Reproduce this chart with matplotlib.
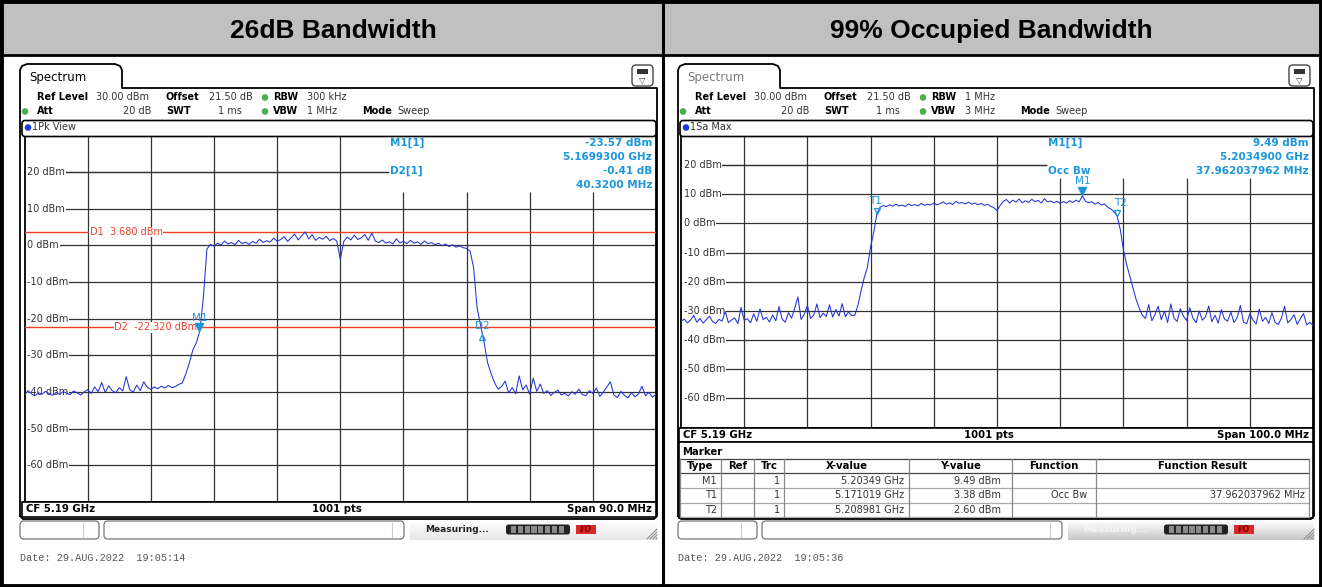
import numpy as np
import matplotlib
matplotlib.use("Agg")
import matplotlib.pyplot as plt
from matplotlib.patches import Rectangle, FancyBboxPatch, Circle

W, H = 1322, 587
UI = "DejaVu Sans"
MARK = "#1a96dc"
TRACE = "#2233d8"
RED = "#e8412c"
GRID = "#333333"

# ---- values ----
titles = ["26dB Bandwidth", "99% Occupied Bandwidth"]

# 26 dB bandwidth sweep, CF 5.19 GHz / span 90 MHz, one reading every 0.5 MHz (dBm)
left_span = (5145.0, 5235.0)
left_trace = [
    -40.8, -39.6, -40.5, -41.0, -40.2, -40.6, -39.8, -40.4, -40.9, -40.1,
    -40.6, -39.9, -40.3, -40.7, -39.7, -40.2, -40.8, -40.0, -39.3, -40.4,
    -38.6, -39.9, -37.4, -40.1, -38.3, -39.6, -40.2, -38.8, -39.7, -35.8,
    -39.4, -40.0, -38.1, -39.6, -37.2, -38.7, -39.3, -38.6, -39.1, -38.4,
    -38.9, -38.2, -38.8, -38.5, -37.9, -37.5, -35.0, -32.0, -28.5, -26.5,
    -23.2, -14.0, -1.0, 0.3, -0.2, 0.6, 0.1, 1.2, 0.4, 0.8,
    0.2, 1.4, 0.5, 0.9, 0.3, 1.1, 0.6, 1.7, 0.8, 1.3,
    0.9, 2.0, 1.2, 1.6, 2.4, 1.1, 2.1, 3.1, 1.5, 2.6,
    3.68, 1.8, 2.9, 1.4, 2.2, 1.7, 2.5, 1.3, 1.9, 1.2,
    -3.8, 1.1, 2.3, 1.5, 2.8, 1.6, 2.1, 3.0, 1.4, 3.4,
    1.2, 0.8, 1.5, 0.6, 1.0, 0.4, 1.8, 0.7, 1.1, 0.5,
    1.4, 0.6, 1.0, 0.3, 1.2, 0.5, 0.8, 0.2, 0.6, -0.1,
    0.4, -0.3, 0.2, -0.5, -0.1, -0.6, -0.8, -1.5, -6.0, -17.0,
    -21.8, -26.5, -32.0, -35.0, -37.5, -39.2, -38.5, -37.0, -40.2, -38.8,
    -40.5, -35.6, -39.4, -38.1, -40.6, -36.2, -39.8, -37.8, -40.4, -39.6,
    -40.9, -40.1, -39.5, -40.8, -40.3, -41.1, -39.9, -40.6, -39.2, -40.7,
    -41.0, -39.6, -40.4, -38.9, -41.2, -40.0, -38.6, -37.2, -40.8, -41.5,
    -39.8, -40.9, -41.6, -40.2, -41.3, -40.5, -38.4, -41.0, -40.1, -41.4,
    -40.6,
]

# 99 % occupied bandwidth sweep, CF 5.19 GHz / span 100 MHz, every 0.5 MHz (dBm)
right_span = (5140.0, 5240.0)
right_trace = [
    -33.6, -32.8, -34.1, -33.2, -31.5, -33.9, -32.6, -34.2, -33.0, -31.8,
    -33.7, -34.3, -32.9, -33.5, -30.2, -34.0, -33.1, -32.4, -34.4, -28.8,
    -33.2, -32.7, -34.1, -31.0, -33.6, -29.3, -33.0, -32.2, -33.8, -31.4,
    -33.4, -28.5, -32.8, -33.9, -30.6, -32.5, -29.0, -25.2, -32.9, -31.2,
    -28.2, -32.6, -31.5, -27.6, -32.3, -30.8, -31.9, -27.9, -32.1, -29.5,
    -31.8, -27.5, -32.0, -30.4, -31.6, -31.5, -28.0, -23.0, -18.5, -15.0,
    -8.0, -3.0, 3.4, 5.6, 6.1, 5.8, 6.4, 5.9, 6.6, 6.0,
    6.3, 5.8, 6.7, 6.1, 6.5, 6.0, 6.9, 6.2, 6.6, 6.3,
    7.0, 6.4, 6.8, 7.4, 6.6, 7.1, 6.5, 7.6, 6.9, 7.2,
    6.7, 7.3, 6.6, 7.0, 6.4, 6.9, 6.2, 6.6, 5.9, 5.4,
    4.4, 6.2, 7.6, 8.2, 7.0, 8.0, 7.3, 8.4, 7.1, 7.8,
    7.2, 8.3, 7.5, 7.9, 7.0, 8.5, 7.4, 7.7, 7.1, 7.6,
    6.9, 7.5, 7.0, 7.8, 7.2, 8.0, 7.4, 9.49, 7.6, 7.1,
    7.4, 6.6, 7.2, 6.3, 6.7, 5.6, 5.0, 4.0, 2.6, -2.0,
    -9.0, -14.0, -18.0, -22.0, -26.0, -29.0, -31.5, -32.6, -27.8, -33.4,
    -31.2, -28.4, -33.0, -30.1, -34.0, -27.6, -32.5, -33.6, -29.2, -31.8,
    -33.3, -28.9, -32.4, -34.1, -30.0, -33.2, -32.0, -28.3, -33.7, -31.5,
    -34.2, -29.6, -32.8, -33.5, -30.4, -34.0, -32.3, -28.1, -33.8, -34.4,
    -31.0, -33.1, -34.5, -29.4, -33.6, -32.2, -34.3, -30.6, -33.9, -34.7,
    -32.5, -28.4, -34.1, -33.0, -31.3, -34.6, -32.7, -30.9, -34.8, -33.9,
    -35.0,
]

db_levels = [20, 10, 0, -10, -20, -30, -40, -50, -60]
left_d1, left_d2 = 3.68, -22.32
left_m1 = (5169.93, -23.57)
left_delta2 = (5210.25, -23.98)
right_m1 = (5203.49, 9.49)
right_t1 = (5171.019, 3.38)
right_t2 = (5208.981, 2.60)

left_info = [("M1[1]", "-23.57 dBm"), ("", "5.1699300 GHz"), ("D2[1]", "-0.41 dB"), ("", "40.3200 MHz")]
right_info = [("M1[1]", "9.49 dBm"), ("", "5.2034900 GHz"), ("Occ Bw", "37.962037962 MHz")]

table_cols = ["Type", "Ref", "Trc", "X-value", "Y-value", "Function", "Function Result"]
table_rows = [
    ["M1", "", "1", "5.20349 GHz", "9.49 dBm", "", ""],
    ["T1", "", "1", "5.171019 GHz", "3.38 dBm", "Occ Bw", "37.962037962 MHz"],
    ["T2", "", "1", "5.208981 GHz", "2.60 dBm", "", ""],
]

fig = plt.figure(figsize=(W / 100, H / 100), dpi=100, facecolor="white")


def px_axes(x0, y0, x1, y1, **kw):
    return fig.add_axes([x0 / W, 1 - y1 / H, (x1 - x0) / W, (y1 - y0) / H], **kw)


def spectrum_axes(box, span, trace, box_top):
    ax = px_axes(*box)
    freqs = np.linspace(span[0], span[1], len(trace))
    ax.set_xlim(*span)
    ax.set_ylim(-70, 30)
    ax.set_xticks([])
    ax.set_yticks([])
    for s in ax.spines.values():
        s.set_color("black")
        s.set_linewidth(1.3)
    step = (span[1] - span[0]) / 10
    for k in range(1, 10):
        f = span[0] + k * step
        top = 30 if k <= 5 else box_top
        ax.vlines(f, -70, top, color=GRID, lw=0.9, zorder=1)
    for v in db_levels:
        ax.axhline(v, color=GRID, lw=0.9, zorder=1)
        ax.text(0.004, v, f"{v} dBm", transform=ax.get_yaxis_transform(), fontsize=7,
                family=UI, color="#333333", va="center", ha="left", zorder=3,
                bbox=dict(fc="white", ec="none", pad=0.8))
    ax.plot(freqs, trace, color=TRACE, lw=0.75, zorder=4)
    return ax


# left spectrum
axl = spectrum_axes((24.5, 135.5, 656, 502), left_span, left_trace, 14.6)
axl.add_patch(Rectangle((5197.0, 14.6), 40, 20, fc="white", ec="none", zorder=2))
axl.hlines(20, 5145, 5197.0, color=GRID, lw=0.9, zorder=2.5)
for lvl, lab, fx in [(left_d1, "D1  3.680 dBm", 5154.3), (left_d2, "D2  -22.320 dBm", 5157.8)]:
    axl.axhline(lvl, color=RED, lw=1.0, zorder=3)
    axl.text(fx, lvl, lab, color=RED, fontsize=7, family=UI, va="center", zorder=3.5,
             bbox=dict(fc="white", ec="none", pad=0.3))
axl.plot(left_m1[0], left_m1[1] + 1.3, marker="v", ms=6, color=MARK, zorder=6)
axl.text(left_m1[0], left_m1[1] + 3.9, "M1", color=MARK, fontsize=7.5, family=UI,
         ha="center", va="center", zorder=6)
axl.plot(left_delta2[0], left_delta2[1] - 1.0, marker="^", ms=5, mfc="none", mec=MARK,
         mew=0.9, zorder=6)
axl.text(left_delta2[0], left_delta2[1] + 2.1, "D2", color=MARK, fontsize=7.5, family=UI,
         ha="center", va="center", zorder=6)

# right spectrum
axr = spectrum_axes((681, 136, 1313, 427.5), right_span, right_trace, 15.6)
axr.add_patch(Rectangle((5197.9, 15.6), 50, 20, fc="white", ec="none", zorder=2))
axr.hlines(20, 5140, 5197.9, color=GRID, lw=0.9, zorder=2.5)
axr.plot(right_m1[0], right_m1[1] + 1.6, marker="v", ms=6, color=MARK, zorder=6)
axr.text(right_m1[0], right_m1[1] + 5.0, "M1", color=MARK, fontsize=7.5, family=UI,
         ha="center", va="center", zorder=6)
for (f, v), lab, dx in [(right_t1, "T1", -0.3), (right_t2, "T2", 0.5)]:
    axr.plot(f, v + 1.0, marker="v", ms=5, mfc="none", mec=MARK, mew=0.9, zorder=6)
    axr.text(f + dx, v + 4.3, lab, color=MARK, fontsize=7.5, family=UI,
             ha="center", va="center", zorder=6)

# ---- overlay in pixel coordinates for the screen furniture ----
ov = px_axes(0, 0, W, H, zorder=10)
ov.axis("off")


def t(x, y, s, **kw):
    kw.setdefault("fontsize", 7)
    kw.setdefault("family", UI)
    kw.setdefault("va", "center")
    ov.text(x, y, s, **kw)


def dot(x, y, c):
    ov.add_patch(Circle((x, y), 3.3, fc=c, ec="none"))


# title band and outer frame
ov.add_patch(Rectangle((0, 0), W, 55, fc="#c0c0c0", ec="none"))
ov.plot([0, W], [55, 55], color="black", lw=2)
ov.plot([663, 663], [0, H], color="black", lw=2.2)
ov.add_patch(Rectangle((1, 1), W - 2, H - 2.5, fill=False, ec="black", lw=3.5))
ov.text(333, 31, titles[0], ha="center", va="center", fontsize=19, fontweight="bold",
        family="Liberation Sans")
ov.text(991, 31, titles[1], ha="center", va="center", fontsize=19, fontweight="bold",
        family="Liberation Sans")


def screen(x0, x1, bottom, tab_color, rbw, vbw, view, date, meas_light):
    xs = [x0, x0, x0 + 2, x0 + 7, x0 + 95, x0 + 100, x0 + 102, x0 + 102, x1, x1, x1 - 3, x0 + 3, x0]
    ys = [bottom - 3, 70, 66, 64, 64, 66, 70, 88, 88, bottom - 3, bottom, bottom, bottom - 3]
    ov.plot(xs, ys, color="black", lw=1.3)
    t(x0 + 9, 77, "Spectrum", fontsize=8.5, color=tab_color)
    ov.add_patch(FancyBboxPatch((x1 - 25, 65), 21, 21, boxstyle="round,pad=0,rounding_size=4",
                                fc="white", ec="#444444", lw=1))
    ov.add_patch(Rectangle((x1 - 20, 69), 11, 5, fc="#333333", ec="none"))
    t(x1 - 14.5, 80.5, "▽", ha="center", fontsize=6, color="#333333")
    # settings rows
    bold = dict(fontweight="bold")
    t(x0 + 17, 97, "Ref Level", **bold)
    t(x0 + 76, 97, "30.00 dBm", color="#333333")
    t(x0 + 146, 97, "Offset", **bold)
    t(x0 + 189, 97, "21.50 dB", color="#333333")
    dot(x0 + 245, 97.5, "#4cae4c")
    t(x0 + 253, 97, "RBW", **bold)
    t(x0 + 287, 97, rbw, color="#333333")
    dot(x0 + 5, 111.5, "#4cae4c")
    t(x0 + 17, 111, "Att", **bold)
    t(x0 + 131, 111, "20 dB", ha="right", color="#333333")
    t(x0 + 146, 111, "SWT", **bold)
    t(x0 + 222, 111, "1 ms", ha="right", color="#333333")
    dot(x0 + 245, 111.5, "#4cae4c")
    t(x0 + 253, 111, "VBW", **bold)
    t(x0 + 287, 111, vbw, color="#333333")
    t(x0 + 342, 111, "Mode", **bold)
    t(x0 + 377, 111, "Sweep", color="#333333")
    # trace header row
    ov.add_patch(FancyBboxPatch((x0 + 2, 120.5), x1 - x0 - 3, 16, boxstyle="round,pad=0,rounding_size=3",
                                fc="white", ec="black", lw=1.2))
    dot(x0 + 8, 127.5, "#1a3ad8")
    t(x0 + 12, 127.5, view, color="#333333")
    # status bar
    sb = dict(boxstyle="round,pad=0,rounding_size=4", fc="white", ec="#777777", lw=0.9)
    ov.add_patch(FancyBboxPatch((x0, 521), 79, 18, **sb))
    ov.add_patch(FancyBboxPatch((x0 + 84, 521), 300, 18, **sb))
    ov.plot([x0 + 63, x0 + 63], [523, 537], color="#cccccc", lw=0.8)
    ov.plot([x0 + 372, x0 + 372], [523, 537], color="#cccccc", lw=0.8)
    shade = np.linspace(1.0, 0.78 if meas_light else 0.9, 20)[:, None]
    ov.imshow(shade, extent=[x0 + 390, x1, 540, 520], cmap="gray", vmin=0, vmax=1,
              aspect="auto", zorder=0.5)
    t(x0 + 405, 529.5, "Measuring...", fontsize=6.5, fontweight="bold",
      color="#f4f4f4" if meas_light else "#222222")
    ov.add_patch(FancyBboxPatch((x0 + 486, 524.5), 64, 10, boxstyle="round,pad=0,rounding_size=2.5",
                                fc="#222222", ec="none"))
    for k in range(8):
        ov.add_patch(Rectangle((x0 + 491 + k * 6.8, 526), 5.2, 7, fc="#8a8a8a", ec="none"))
    ov.add_patch(Rectangle((x0 + 556, 525), 20, 9, fc="#d92a2a", ec="none"))
    t(x0 + 566, 529.5, "I/O", ha="center", fontsize=5.5, fontweight="bold", style="italic",
      color="#7a0000")
    for k in range(4):
        ov.plot([x1 - 3 * k - 1, x1], [539, 539 - 3 * k - 1], color="#888888", lw=0.7)
    t(x0, 558, date, family="Liberation Mono", fontsize=7.3, color="#555555")


screen(20, 657, 519, "black", "300 kHz", "1 MHz", "1Pk View", "Date: 29.AUG.2022  19:05:14", False)
screen(678, 1314, 519, "#7a7a7a", "1 MHz", "3 MHz", "1Sa Max", "Date: 29.AUG.2022  19:05:36", True)


def cf_row(x0, x1, y0, y1, span_text, center):
    ov.add_patch(Rectangle((x0, y0), x1 - x0, y1 - y0, fc="white", ec="black", lw=1.2))
    ym = (y0 + y1) / 2
    t(x0 + 4, ym, "CF 5.19 GHz", fontweight="bold", fontsize=7.3)
    t(center, ym, "1001 pts", ha="center", fontweight="bold", fontsize=7.3)
    t(x1 - 4, ym, span_text, ha="right", fontweight="bold", fontsize=7.3)


cf_row(22, 656, 502, 517, "Span 90.0 MHz", 337)
cf_row(679, 1313, 427.5, 442, "Span 100.0 MHz", 989)

# marker info blocks inside the diagrams
for k, (lab, val) in enumerate(left_info):
    y = 143 + 14 * k
    if lab:
        t(390, y, lab, color=MARK, fontsize=7.5, fontweight="bold")
    t(652, y, val, ha="right", color=MARK, fontsize=7.5, fontweight="bold")
for k, (lab, val) in enumerate(right_info):
    y = 143 + 14 * k
    if lab:
        t(1048, y, lab, color=MARK, fontsize=7.5, fontweight="bold")
    t(1309, y, val, ha="right", color=MARK, fontsize=7.5, fontweight="bold")

# marker table
ov.add_patch(Rectangle((679, 442), 634, 76, fc="white", ec="black", lw=1.2))
t(682, 452, "Marker", fontweight="bold", fontsize=7.3)
col_edges = [680, 721, 754, 784, 909, 1012, 1096, 1309]
row_edges = [459, 473, 488, 503, 517]
anchors = [717, 750, 780, 904, 1001, 1087, 1305]
for i, ye in enumerate(row_edges):
    ov.plot([col_edges[0], col_edges[-1]], [ye, ye], color="#444444" if i < 2 else "#aaaaaa", lw=0.9)
for xe in col_edges:
    ov.plot([xe, xe], [row_edges[0], row_edges[-1]], color="#888888", lw=0.9)
for c, name in enumerate(table_cols):
    t((col_edges[c] + col_edges[c + 1]) / 2, 466, name, ha="center", fontweight="bold", fontsize=7.3)
for r, row in enumerate(table_rows):
    y = (row_edges[r + 1] + row_edges[r + 2]) / 2
    for c, val in enumerate(row):
        if val:
            t(anchors[c], y, val, ha="right", color="#333333", fontsize=7)

ov.set_xlim(0, W)
ov.set_ylim(H, 0)

fig.savefig("out.png", dpi=100, facecolor="white")
